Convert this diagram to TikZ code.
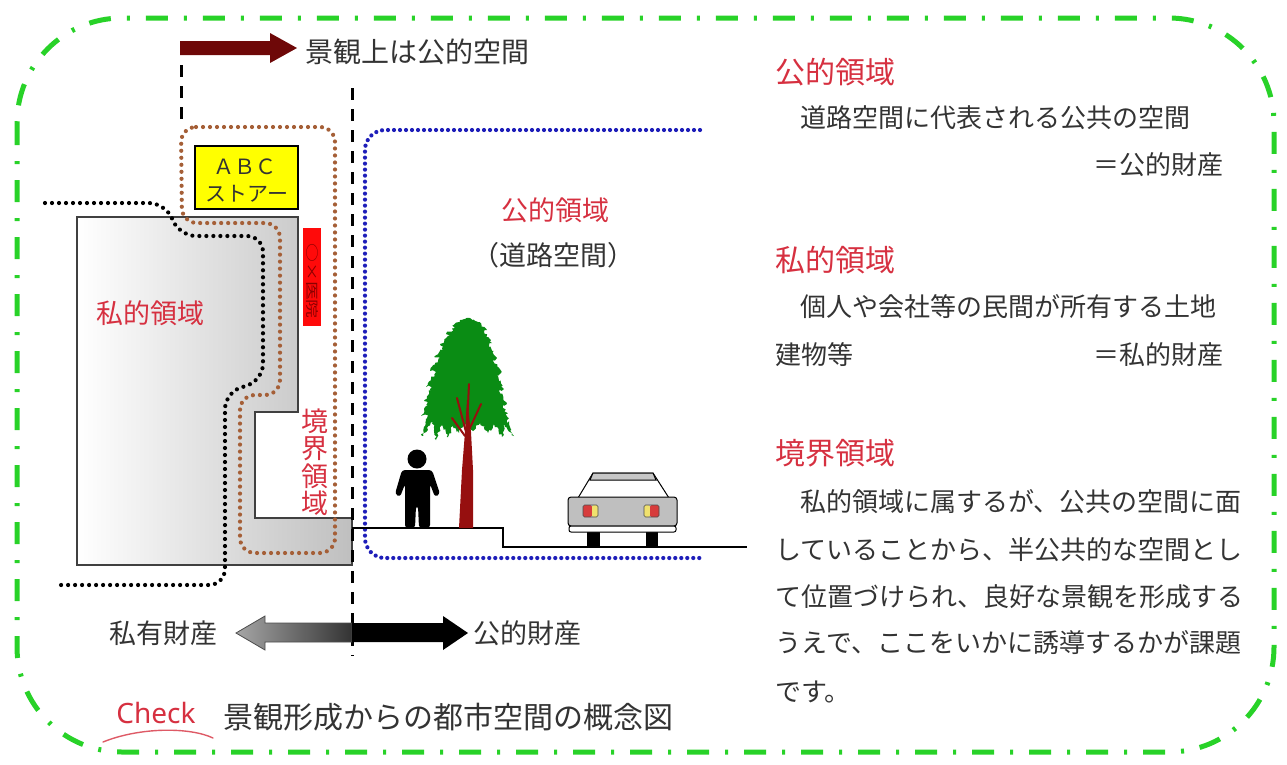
\documentclass[tikz,border=0pt]{standalone}
\usepackage{fontspec}
\usepackage{graphicx}
\setmainfont{Noto Sans CJK JP}
\newfontfamily\latinsans{Noto Sans}
\usetikzlibrary{decorations.pathmorphing}

\definecolor{framegreen}{RGB}{40,210,40}
\definecolor{hdred}{RGB}{214,48,64}
\definecolor{txtgray}{RGB}{51,51,51}
\definecolor{arrowred}{RGB}{110,8,8}
\definecolor{zonebrown}{RGB}{165,95,55}
\definecolor{roadblue}{RGB}{30,30,185}
\definecolor{signyellow}{RGB}{255,255,0}
\definecolor{signred}{RGB}{255,10,10}
\definecolor{signtext}{RGB}{140,0,0}
\definecolor{leafgreen}{RGB}{10,140,20}
\definecolor{trunkred}{RGB}{150,15,15}
\definecolor{lampred}{RGB}{215,60,60}
\definecolor{lampyellow}{RGB}{240,225,110}

\begin{document}
\begin{tikzpicture}[x=1pt,y=-1pt,
  frame/.style={draw=framegreen, line width=5pt, dash pattern=on 22pt off 16pt on 3pt off 16pt},
  guide/.style={draw=black, line width=3pt, dash pattern=on 12pt off 9pt},
  dotline/.style={line width=4.2pt, line cap=round, dash pattern=on 0pt off 7pt},
  lbl/.style={inner sep=0pt, font=\fontsize{27}{30}\selectfont},
  captxt/.style={inner sep=0pt, font=\fontsize{30}{34}\selectfont, text=txtgray},
  head/.style={inner sep=0pt, anchor=west, font=\fontsize{30}{34}\selectfont, text=hdred},
  body/.style={inner sep=0pt, anchor=west, font=\fontsize{26}{30}\selectfont, text=txtgray},
  ground/.style={draw=black, line width=1.2pt}
]
\useasboundingbox (0,0) rectangle (1287,764);

% outer dash-dot frame
\draw[frame, rounded corners=105pt] (17,18) rectangle (1274,752);

% building of the private lot
\shade[left color=white, right color=black!25]
  (77,217) -- (298,217) -- (298,412) -- (255,412) -- (255,518) -- (352,518) -- (352,565) -- (77,565) -- cycle;
\draw[black!75, line width=1.4pt]
  (77,217) -- (298,217) -- (298,412) -- (255,412) -- (255,518) -- (352,518) -- (352,565) -- (77,565) -- cycle;

% shop sign
\node[draw=black, line width=1.2pt, fill=signyellow, minimum width=103pt, minimum height=63pt, inner sep=0pt]
  (shop) at (246.5,177.5) {};
\node[inner sep=0pt, font=\fontsize{21}{22}\selectfont, text=txtgray] (shopa) at (245,167) {ＡＢＣ};
\node[inner sep=0pt, font=\fontsize{21}{23}\selectfont, text=txtgray] (shopb) at (247,194) {ストアー};

% hanging clinic sign
\node[fill=signred, minimum width=18pt, minimum height=98pt, inner sep=0pt] (clinic) at (312,277) {};
\node[inner sep=0pt, rotate=-90, font=\fontsize{13}{14}\selectfont, text=signtext] (clinict) at (312,281)
  {\scalebox{1.45}[1]{○×医院}};

% zone boundaries
\draw[dotline, black, rounded corners=16pt]
  (45,203) -- (165,203) -- (180,236) -- (263,236) -- (263,380) -- (225,393) -- (225,585) -- (55,585);
\draw[dotline, zonebrown, rounded corners=15pt]
  (181,127) -- (335,127) -- (335,553) -- (240,553) -- (240,395) -- (280,395) -- (280,223) -- (182,223) -- cycle;
\draw[dotline, roadblue, dash pattern=on 0pt off 6pt, rounded corners=20pt]
  (700,130) -- (365,130) -- (365,558) -- (700,558);

% street profile
\draw[ground] (352,528) -- (503,528) -- (503,547) -- (747,547);

% guide lines and the top arrow
\coordinate (gl1) at (181,65);
\coordinate (gl2) at (181,122);
\coordinate (gr1) at (352,88);
\coordinate (gr2) at (352,656);
\draw[guide] (gl1) -- (gl2);
\draw[guide] (gr1) -- (gr2);
\fill[arrowred] (180,41) -- (270,41) -- (270,33) -- (297,48) -- (270,63) -- (270,55) -- (180,55) -- cycle;
\node[lbl, anchor=west, text=txtgray, font=\fontsize{28}{30}\selectfont] (scenic) at (305,52) {景観上は公的空間};

% labels of the zones
\node[lbl, text=hdred] (privlbl) at (150,313) {私的領域};
\node[lbl, text=hdred, align=center, font=\fontsize{27}{27.5}\selectfont] (bndlbl) at (315,462) {境\\界\\領\\域};
\node[lbl, text=hdred] (publbl) at (555,210) {公的領域};
\node[lbl, text=txtgray] (roadlbl) at (553,255) {（道路空間）};

% tree: drooping feathery crown
\fill[leafgreen, decorate, decoration={random steps, segment length=2pt, amplitude=1.5pt}]
  (470,318) -- (460,320) -- (452,326) -- (455,328) -- (446,334) -- (450,336) -- (440,344)
  -- (445,346) -- (434,357) -- (440,358) -- (430,371) -- (436,372) -- (426,387) -- (432,387)
  -- (424,401) -- (430,401) -- (421,416) -- (428,415) -- (422,436) -- (433,422) -- (436,440)
  -- (442,425) -- (448,437) -- (453,426) -- (459,433) -- (465,424) -- (473,431) -- (480,422)
  -- (488,433) -- (494,424) -- (502,437) -- (505,425) -- (514,436) -- (507,420) -- (509,418)
  -- (503,405) -- (507,404) -- (500,390) -- (504,389) -- (497,375) -- (501,373) -- (493,360)
  -- (497,358) -- (489,345) -- (492,343) -- (484,332) -- (487,330) -- (478,322) -- cycle;
\fill[trunkred] (459,528) -- (462,470) -- (465,432) -- (467,400) -- (471,432) -- (473,470) -- (473,528) -- cycle;
\draw[trunkred, line width=2pt, line cap=round]
  (466,432) -- (457,398)  (467,426) -- (469,384)  (469,430) -- (481,404)  (465,436) -- (452,418);

% pedestrian
\fill[black] (417,459) circle (9.5);
\fill[black, rounded corners=3pt]
  (402,470) -- (432,470) -- (440,494) -- (435,497) -- (430,484) -- (430,528)
  -- (419,528) -- (418,506) -- (416,506) -- (415,528)
  -- (405,528) -- (405,484) -- (400,497) -- (395,494) -- cycle;

% car seen from behind
\fill[black] (587,530) rectangle (600,548);
\fill[black] (646,530) rectangle (658,548);
\filldraw[fill=white, draw=black, line width=1pt] (578,498) -- (593,473) -- (653,473) -- (669,498) -- cycle;
\filldraw[fill=black!22, draw=black, line width=1pt] (593,473) -- (653,473) -- (656,480) -- (590,480) -- cycle;
\filldraw[fill=black!25, draw=black, line width=1pt, rounded corners=3pt] (568,497) rectangle (677,526);
\filldraw[fill=white, draw=black, line width=1pt, rounded corners=2pt] (569,526) rectangle (676,532);
\fill[lampred, rounded corners=1.5pt] (583,505) rectangle (592,517);
\fill[lampyellow, rounded corners=1.5pt] (592,505) rectangle (598,517);
\draw[black!70, line width=0.6pt, rounded corners=1.5pt] (583,505) rectangle (598,517);
\fill[lampyellow, rounded corners=1.5pt] (644,505) rectangle (650,517);
\fill[lampred, rounded corners=1.5pt] (650,505) rectangle (659,517);
\draw[black!70, line width=0.6pt, rounded corners=1.5pt] (644,505) rectangle (659,517);

% property arrows
\shade[left color=black!35, right color=black!80, draw=black!70, line width=0.8pt]
  (352,623) -- (265,623) -- (265,616) -- (236,633) -- (265,650) -- (265,642) -- (352,642) -- cycle;
\fill[black] (352,623) -- (443,623) -- (443,616) -- (468,633) -- (443,650) -- (443,642) -- (352,642) -- cycle;
\node[lbl, text=txtgray] (privprop) at (163,633) {私有財産};
\node[lbl, text=txtgray, anchor=west] (pubprop) at (473,633) {公的財産};

% caption
\node[inner sep=0pt, font=\latinsans\fontsize{28}{30}\selectfont, text=hdred] (check) at (156,713) {Check};
\draw[hdred!80, line width=1.4pt, line cap=round] (103,742) .. controls (140,727) and (190,727) .. (213,738);
\node[captxt, anchor=west] (caption) at (223,717) {景観形成からの都市空間の概念図};

% explanations
\node[head] (h1) at (775,72) {公的領域};
\node[body] (b1) at (800,118) {道路空間に代表される公共の空間};
\node[body] (b2) at (1093,165) {＝公的財産};
\node[head] (h2) at (775,260) {私的領域};
\node[body] (b3) at (800,307) {個人や会社等の民間が所有する土地};
\node[body] (b4) at (775,355) {建物等};
\node[body] (b5) at (1093,355) {＝私的財産};
\node[head] (h3) at (775,453) {境界領域};
\node[body] (b6) at (800,502) {私的領域に属するが、公共の空間に面};
\node[body] (b7) at (775,550) {していることから、半公共的な空間とし};
\node[body] (b8) at (775,597) {て位置づけられ、良好な景観を形成する};
\node[body] (b9) at (775,643) {うえで、ここをいかに誘導するかが課題};
\node[body] (b10) at (775,692) {です。};
\end{tikzpicture}
\end{document}
